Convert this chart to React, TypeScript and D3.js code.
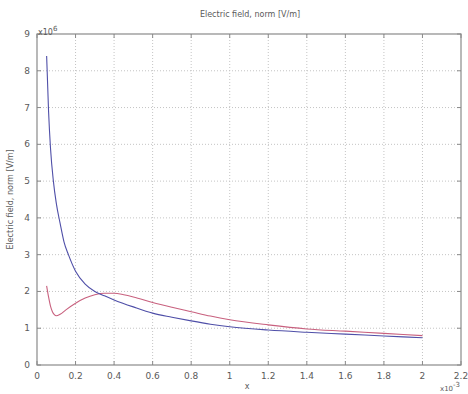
import React from "react";
import * as d3 from "d3";

const xTicks = [0, 0.2, 0.4, 0.6, 0.8, 1, 1.2, 1.4, 1.6, 1.8, 2, 2.2];
const yTicks = [0, 1, 2, 3, 4, 5, 6, 7, 8, 9];

const blueX = [0.05, 0.06, 0.07, 0.085, 0.1, 0.12, 0.14, 0.163, 0.2, 0.25, 0.3, 0.35, 0.4, 0.5, 0.6, 0.7, 0.8, 0.9, 1.0, 1.2, 1.4, 1.6, 1.8, 2.0];
const blueY = [8.4, 6.9, 5.9, 5.0, 4.4, 3.85, 3.35, 3.0, 2.55, 2.2, 2.0, 1.88, 1.77, 1.58, 1.41, 1.3, 1.2, 1.11, 1.04, 0.95, 0.89, 0.84, 0.79, 0.74];

const redX = [0.05, 0.06, 0.07, 0.08, 0.09, 0.1, 0.12, 0.15, 0.2, 0.25, 0.3, 0.35, 0.4, 0.45, 0.5, 0.6, 0.7, 0.8, 0.9, 1.0, 1.2, 1.4, 1.6, 1.8, 2.0];
const redY = [2.15, 1.85, 1.6, 1.45, 1.37, 1.34, 1.38, 1.5, 1.68, 1.82, 1.91, 1.95, 1.95, 1.91, 1.85, 1.7, 1.57, 1.45, 1.33, 1.23, 1.09, 0.98, 0.92, 0.86, 0.8];

const W = 468, H = 394;
const L = 37, R = 461, T = 34, B = 365;

export default function App() {
  const x = d3.scaleLinear().domain([0, 2.2]).range([L, R]);
  const y = d3.scaleLinear().domain([0, 9]).range([B, T]);
  const line = d3.line<[number, number]>().x(d => x(d[0])).y(d => y(d[1])).curve(d3.curveMonotoneX);
  const blue = line(blueX.map((v, i) => [v, blueY[i]]) as [number, number][]) || "";
  const red = line(redX.map((v, i) => [v, redY[i]]) as [number, number][]) || "";
  const font = "DejaVu Sans, Verdana, sans-serif";
  const grid = "#c4c4c4";
  const axis = "#8a8a8a";
  const txt = "#5a5a5a";
  return (
    <svg width={W} height={H} style={{ position: "absolute", left: 0, top: 0, background: "#fff" }} fontFamily={font}>
      <rect x={0} y={0} width={W} height={H} fill="#fff" />
      {xTicks.slice(1, -1).map(t => (
        <line key={"gx" + t} x1={x(t)} x2={x(t)} y1={T} y2={B} stroke={grid} strokeWidth={1} strokeDasharray="1,2" />
      ))}
      {yTicks.slice(1, -1).map(t => (
        <line key={"gy" + t} x1={L} x2={R} y1={y(t)} y2={y(t)} stroke={grid} strokeWidth={1} strokeDasharray="1,2" />
      ))}
      <rect x={L} y={T} width={R - L} height={B - T} fill="none" stroke={axis} strokeWidth={1.2} />
      {xTicks.map(t => (
        <g key={"tx" + t}>
          <line x1={x(t)} x2={x(t)} y1={B} y2={B - 4} stroke={axis} />
          <line x1={x(t)} x2={x(t)} y1={T} y2={T + 4} stroke={axis} />
          <text x={x(t)} y={B + 14} fontSize={9} fill={txt} textAnchor="middle">{String(t)}</text>
        </g>
      ))}
      {yTicks.map(t => (
        <g key={"ty" + t}>
          <line x1={L} x2={L + 4} y1={y(t)} y2={y(t)} stroke={axis} />
          <line x1={R} x2={R - 4} y1={y(t)} y2={y(t)} stroke={axis} />
          <text x={L - 7} y={y(t) + 3} fontSize={9} fill={txt} textAnchor="end">{String(t)}</text>
        </g>
      ))}
      <path d={red} fill="none" stroke="#c8607e" strokeWidth={1.1} />
      <path d={blue} fill="none" stroke="#4f4fa8" strokeWidth={1.1} />
      <text x={250} y={17} fontSize={8} fill={txt} textAnchor="middle">Electric field, norm [V/m]</text>
      <text transform={`translate(13,${(T + B) / 2}) rotate(-90)`} fontSize={8} fill={txt} textAnchor="middle">Electric field, norm [V/m]</text>
      <text x={247} y={389} fontSize={8} fill={txt} textAnchor="middle">x</text>
      <text x={440} y={391} fontSize={7} fill={txt}>x10<tspan dy={-4} fontSize={7}>-3</tspan></text>
      <text x={38} y={35} fontSize={8} fill={txt}>x10<tspan dy={-4} fontSize={7}>6</tspan></text>
    </svg>
  );
}
